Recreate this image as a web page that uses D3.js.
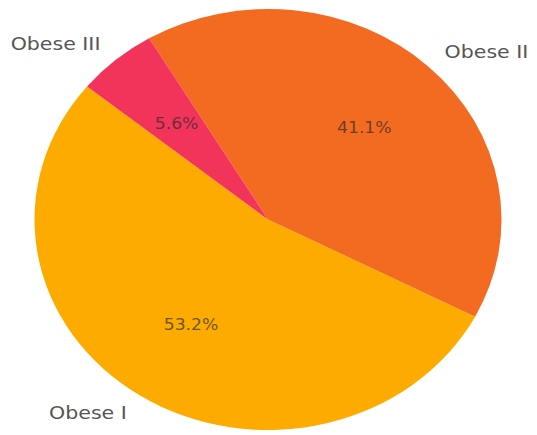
<!DOCTYPE html>
<html>
<head>
<meta charset="utf-8">
<script src="https://cdn.jsdelivr.net/npm/d3@7"></script>
<style>
  html, body { margin: 0; padding: 0; background: #ffffff; }
  svg { display: block; }
</style>
</head>
<body>
<svg id="chart" width="537" height="435"></svg>
<script>
// Share of obesity classes
const categories = ["Obese I", "Obese II", "Obese III"];
const shares = [53.2, 41.1, 5.6];
const pctLabels = ["53.2%", "41.1%", "5.6%"];
const colors = ["#feab00", "#f26b21", "#f3345a"];

const W = 537, H = 435;
const cx = 268, cy = 219.5;
const rx = 233.5, ry = 210.5;      // pie is drawn slightly wider than tall
const sy = ry / rx;
const textScaleX = 1.11;

// start at 140.8° (counter-clockwise from 3 o'clock), wedges run counter-clockwise
const startDeg = 140.8;
const a0 = (90 - startDeg) * Math.PI / 180;

const pie = d3.pie()
  .sort(null)
  .value(d => d)
  .startAngle(a0)
  .endAngle(a0 - 2 * Math.PI);

const arcs = pie(shares);

const arc = d3.arc().innerRadius(0).outerRadius(rx);

const svg = d3.select("#chart");

const pieG = svg.append("g")
  .attr("transform", `translate(${cx},${cy}) scale(1,${sy})`);

pieG.selectAll("path")
  .data(arcs)
  .join("path")
  .attr("d", arc)
  .attr("fill", (d, i) => colors[i]);

// position helper on the stretched circle
function pos(d, frac) {
  const a = (d.startAngle + d.endAngle) / 2;
  return [cx + frac * rx * Math.sin(a), cy - frac * ry * Math.cos(a)];
}

// percentage labels inside the wedges
svg.selectAll("text.pct")
  .data(arcs)
  .join("text")
  .attr("class", "pct")
  .attr("transform", d => { const p = pos(d, 0.6); return `translate(${p[0]},${p[1]}) scale(${textScaleX},1)`; })
  .attr("text-anchor", "middle")
  .attr("dominant-baseline", "central")
  .attr("font-family", "DejaVu Sans, sans-serif")
  .attr("font-size", 15.5)
  .attr("fill", "#2b2b2b")
  .attr("fill-opacity", 0.7)
  .text((d, i) => pctLabels[i]);

// category labels outside the pie
svg.selectAll("text.cat")
  .data(arcs)
  .join("text")
  .attr("class", "cat")
  .attr("transform", d => { const p = pos(d, 1.1); return `translate(${p[0]},${p[1]}) scale(${textScaleX},1)`; })
  .attr("text-anchor", d => Math.sin((d.startAngle + d.endAngle) / 2) < 0 ? "end" : "start")
  .attr("dominant-baseline", "central")
  .attr("font-family", "DejaVu Sans, sans-serif")
  .attr("font-size", 18.5)
  .attr("fill", "#555555")
  .text((d, i) => categories[i]);
</script>
</body>
</html>
